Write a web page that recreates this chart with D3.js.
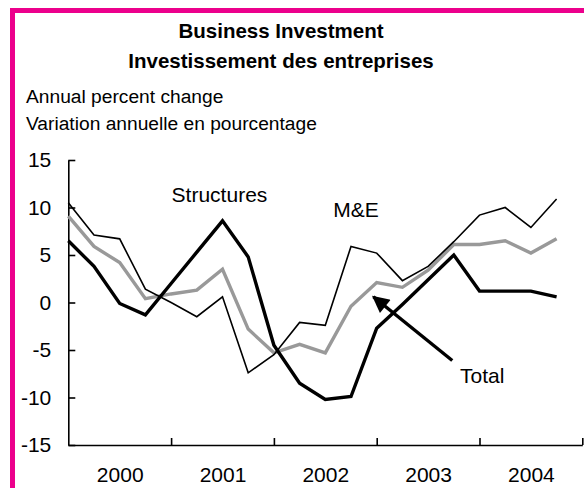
<!DOCTYPE html>
<html>
<head>
  <meta charset="utf-8">
  <script src="https://d3js.org/d3.v7.min.js"></script>
  <style type="text/css">
    body { margin: 0; background: #fff; }
    svg { display: block; font-family: "Liberation Sans", Arial, sans-serif; }
    .axis path, .axis line { stroke: #000; stroke-width: 1.6px; }
    .axis text { font-size: 21px; fill: #000; font-family: "Liberation Sans", Arial, sans-serif; }
  </style>
</head>
<body>
  <div id="chart"></div>

  <script type="text/javascript">
    // quarterly data, 2000Q1 .. 2004Q4
    var years = ['2000', '2001', '2002', '2003', '2004'];
    var structures = [6.5, 3.8, -0.1, -1.3, 2.0, 5.3, 8.6, 4.8, -4.5, -8.5,
                      -10.2, -9.9, -2.7, -0.2, 2.4, 5.0, 1.2, 1.2, 1.2, 0.6];
    var machinery  = [10.5, 7.1, 6.7, 1.4, 0.0, -1.5, 0.6, -7.4, -5.5, -2.1,
                      -2.4, 5.9, 5.2, 2.3, 3.8, 6.4, 9.2, 10.0, 7.9, 10.9];
    var total      = [9.1, 5.9, 4.2, 0.4, 0.9, 1.3, 3.5, -2.8, -5.3, -4.4,
                      -5.3, -0.4, 2.1, 1.6, 3.4, 6.1, 6.1, 6.5, 5.2, 6.7];
    var yTicks = [-15, -10, -5, 0, 5, 10, 15];

    var width = 584, height = 488;

    var svg = d3.select('#chart').append('svg')
        .attr('width', width)
        .attr('height', height);

    // magenta frame (runs off the right and bottom edges)
    svg.append('rect')
        .attr('x', 12.5).attr('y', 10.5)
        .attr('width', 640).attr('height', 520)
        .attr('fill', 'none')
        .attr('stroke', '#ec008c')
        .attr('stroke-width', 5);

    svg.append('text')
        .attr('x', 281).attr('y', 38)
        .attr('text-anchor', 'middle')
        .style('font-size', '20.5px').style('font-weight', 'bold')
        .text('Business Investment');
    svg.append('text')
        .attr('x', 281).attr('y', 68)
        .attr('text-anchor', 'middle')
        .style('font-size', '20.5px').style('font-weight', 'bold')
        .text('Investissement des entreprises');

    svg.append('text')
        .attr('x', 26).attr('y', 103)
        .style('font-size', '19.2px')
        .text('Annual percent change');
    svg.append('text')
        .attr('x', 26).attr('y', 130)
        .style('font-size', '19.2px')
        .text('Variation annuelle en pourcentage');

    var x = d3.scaleLinear().domain([0, 20]).range([68.3, 582.3]);
    var y = d3.scaleLinear().domain([-15, 15]).range([445, 160]);

    // y axis, ticks pointing inwards, plain hyphen for negatives
    svg.append('g')
        .attr('class', 'axis')
        .attr('transform', 'translate(' + x(0) + ',0)')
        .call(d3.axisLeft(y).tickValues(yTicks).tickSizeInner(-7).tickSizeOuter(0).tickPadding(17)
              .tickFormat(function(d) { return String(d); }));

    // x axis: year boundaries
    svg.append('g')
        .attr('class', 'axis')
        .attr('transform', 'translate(0,' + y(-15) + ')')
        .call(d3.axisBottom(x).tickValues([4, 8, 12, 16, 20]).tickSizeInner(-7).tickSizeOuter(0).tickFormat(''));

    // year labels centred in each year
    svg.append('g')
        .attr('class', 'axis')
        .attr('transform', 'translate(0,' + y(-15) + ')')
        .call(d3.axisBottom(x).tickValues(years.map(function(d, i) { return i * 4 + 2; }))
              .tickSize(0).tickPadding(22).tickFormat(function(d) { return years[(d - 2) / 4]; }))
        .select('.domain').remove();

    var line = d3.line()
        .x(function(d, i) { return x(i); })
        .y(function(d) { return y(d); });

    svg.append('path').datum(total)
        .attr('d', line).attr('fill', 'none')
        .attr('stroke', '#999').attr('stroke-width', 3.4);
    svg.append('path').datum(machinery)
        .attr('d', line).attr('fill', 'none')
        .attr('stroke', '#000').attr('stroke-width', 1.6);
    svg.append('path').datum(structures)
        .attr('d', line).attr('fill', 'none')
        .attr('stroke', '#000').attr('stroke-width', 3.4);

    // annotations
    svg.append('defs').append('marker')
        .attr('id', 'head')
        .attr('viewBox', '0 0 10 10')
        .attr('refX', 9).attr('refY', 5)
        .attr('markerWidth', 5.5).attr('markerHeight', 5)
        .attr('markerUnits', 'strokeWidth')
        .attr('orient', 'auto')
      .append('path')
        .attr('d', 'M0,0L10,5L0,10z')
        .attr('fill', '#000');

    svg.append('line')
        .attr('x1', x(14.94)).attr('y1', y(-6.1))
        .attr('x2', x(11.87)).attr('y2', y(0.6))
        .attr('stroke', '#000').attr('stroke-width', 3.4)
        .attr('marker-end', 'url(#head)');

    var notes = [
      { label: 'Structures', q: 4.02, v: 10.6 },
      { label: 'M&E', q: 10.31, v: 8.97 },
      { label: 'Total', q: 15.24, v: -8.5 }
    ];
    svg.selectAll('.note').data(notes).enter().append('text')
        .attr('class', 'note')
        .attr('x', function(d) { return x(d.q); })
        .attr('y', function(d) { return y(d.v); })
        .style('font-size', '21px')
        .text(function(d) { return d.label; });
  </script>
</body>
</html>
